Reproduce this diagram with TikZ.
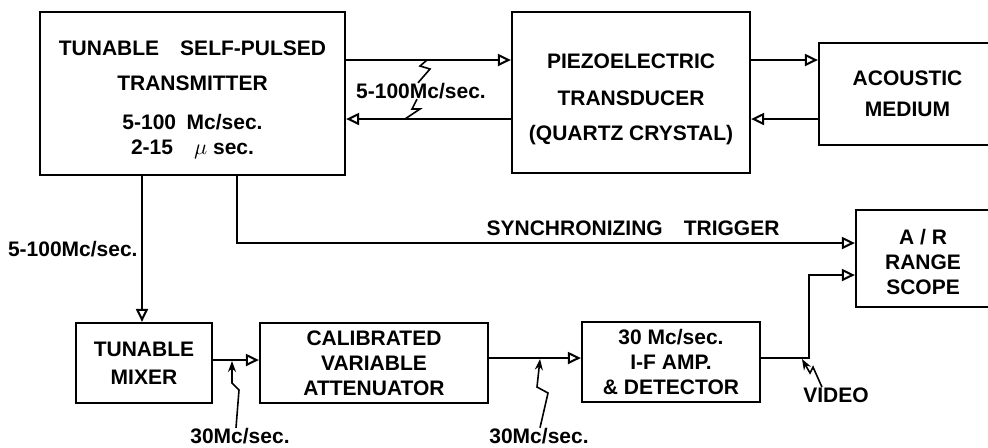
\documentclass[tikz,border=0pt]{standalone}
\usepackage{fontspec}
\setmainfont{Liberation Sans}
\usetikzlibrary{arrows.meta, positioning, calc}

\newcommand{\liftby}[1]{\rule{0pt}{#1}}

\tikzset{
  blk/.style={draw, line width=1.1pt, align=center, inner sep=0pt},
  arr/.style={-{Triangle[open, length=6.5pt, width=6pt, line width=1pt]}, line width=1.1pt},
  lead/.style={-{Stealth[length=5.5pt, width=4pt]}, line width=0.8pt},
  zig/.style={line width=0.8pt},
  lbl/.style={inner sep=0pt, align=center}
}

\begin{document}
\begin{tikzpicture}[x=0.5pt, y=-0.5pt, font=\fontsize{10.5}{12.5}\selectfont\bfseries]
  \clip (0,0) rectangle (988,447);

  % blocks
  \node[blk, minimum width=152.5pt, minimum height=81.5pt] (tx) at (192.5,93.5)
    {\liftby{13.5pt}TUNABLE\quad SELF-PULSED\\[5pt] TRANSMITTER\\[7pt] 5-100\enspace Mc/sec.\\ 2-15\quad $\mu$ sec.};
  \node[blk, minimum width=119pt, minimum height=80.5pt] (pz) at (631,92.5)
    {\liftby{14.5pt}PIEZOELECTRIC\\[6pt] TRANSDUCER\\[5pt] (QUARTZ CRYSTAL)};
  \node[blk, minimum width=88.5pt, minimum height=51pt] (am) at (907.5,94)
    {ACOUSTIC\\[3pt] MEDIUM};
  \node[blk, minimum width=67pt, minimum height=48.5pt] (ar) at (923,258.5)
    {\liftby{11.5pt}A / R\\ RANGE\\ SCOPE};
  \node[blk, minimum width=68pt, minimum height=40pt] (mx) at (144,363)
    {TUNABLE\\[1.5pt] MIXER};
  \node[blk, minimum width=114pt, minimum height=40pt] (at) at (374,363)
    {CALIBRATED\\ VARIABLE\\ ATTENUATOR};
  \node[blk, minimum width=89pt, minimum height=40pt] (ifa) at (671,362)
    {30 Mc/sec.\\ I-F AMP.\\ \& DETECTOR};

  % junction points
  \coordinate (hi) at (0,60);
  \coordinate (lo) at (0,119);
  \coordinate (sy) at (237,243);
  \coordinate (vj) at (809,358);

  % connectors
  \draw[arr] (tx.east |- hi) -- (pz.west |- hi);
  \draw[arr] (pz.west |- lo) -- (tx.east |- lo);
  \draw[arr] (pz.east |- hi) -- (am.west |- hi);
  \draw[arr] (am.west |- lo) -- (pz.east |- lo);
  \draw[arr] (tx.south -| sy) -- (sy) -- (ar.west |- sy);
  \draw[arr] (tx.south -| 142,0) -- (mx.north -| 142,0);
  \draw[arr] (mx.east |- 0,360) -- (at.west |- 0,360);
  \draw[arr] (at.east |- vj) -- (ifa.west |- vj);
  \draw[arr] (ifa.east |- vj) -- (vj) |- (ar.west |- 0,275);

  % labels
  \node[lbl] (fq) at (421,91) {5-100Mc/sec.};
  \node[lbl, anchor=east] (fm) at (138,249) {5-100Mc/sec.};
  \node[lbl, anchor=south] (st) at (633,236) {SYNCHRONIZING\quad TRIGGER};
  \node[lbl] (ia) at (240,436) {30Mc/sec.};
  \node[lbl] (ib) at (539,436) {30Mc/sec.};
  \node[lbl] (vd) at (836,395) {VIDEO};

  % leader marks
  \draw[zig] (fq.north -| 418,0) -- (430,69) -- (420,66) -- (427,60);
  \draw[zig] (fq.south -| 417,0) -- (412,109) -- (420,109) -- (405,119);
  \draw[lead] (ia.north -| 236,0) -- (239,390) -- (232,383) -- (232,361);
  \draw[lead] (ib.north -| 540,0) -- (548,393) -- (537,387) -- (540,359);
  \draw[lead] (vd.north -| 822,0) -- (813,367) -- (810,373) -- (802,359);
\end{tikzpicture}
\end{document}
